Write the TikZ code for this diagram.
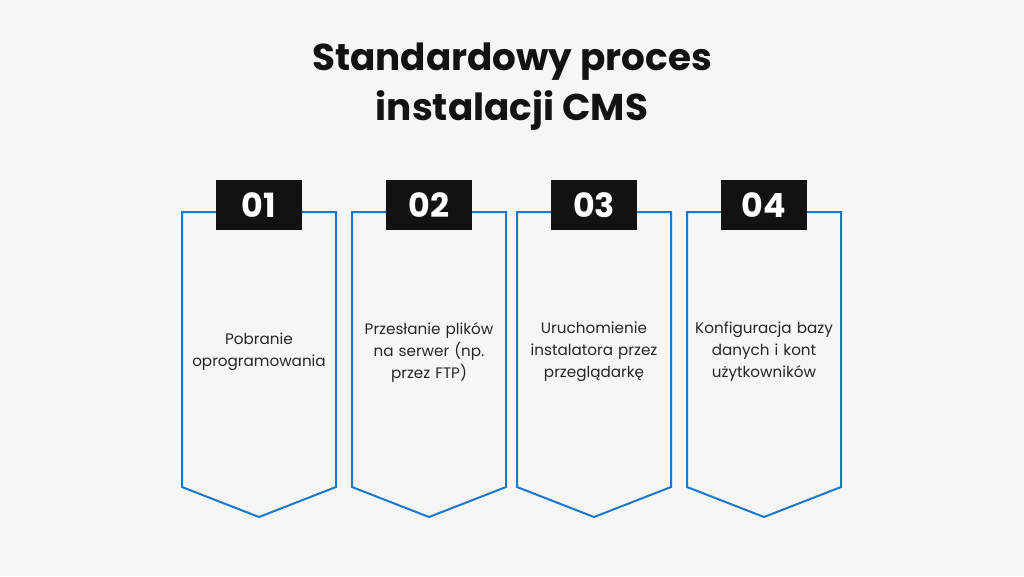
\documentclass[tikz,border=0pt]{standalone}
\usepackage{fontspec}
\setmainfont{Poppins}
\usepackage{xcolor}
\definecolor{bgcol}{HTML}{F6F6F6}
\definecolor{stepblue}{HTML}{1C77CF}
\definecolor{tabcol}{HTML}{141210}
\tikzset{every picture/.style={line width=0.75pt}}
\tikzset{
  stepframe/.style={draw=stepblue, line width=1.5pt, line join=miter},
  steptab/.style={fill=tabcol, text=white, minimum width=64.5pt, minimum height=37.5pt, inner sep=0pt, font=\bfseries\fontsize{25}{25}\selectfont},
  steptext/.style={align=center, text width=112pt, font=\fontsize{11.4}{16.5}\selectfont, text=black!85}
}
\begin{document}
\begin{tikzpicture}[x=0.75pt,y=-0.75pt]
\fill[bgcol] (0,0) rectangle (1024,576);
\useasboundingbox (0,0) rectangle (1024,576);
%
\node[font=\bfseries\fontsize{28}{37.5}\selectfont, align=center, text=tabcol] (title) at (512,87) {Standardowy proces\\instalacji CMS};
%
\foreach \Left/\Num/\Label in {%
	182/01/{Pobranie\\oprogramowania},
	352/02/{Przesłanie plików\\na serwer (np.\\przez FTP)},
	517/03/{Uruchomienie\\instalatora przez\\przeglądarkę},
	687/04/{Konfiguracja bazy\\danych i kont\\użytkowników}%
    }{
\draw[stepframe] (\Left,212) -- (\Left+154,212) -- (\Left+154,487) -- (\Left+77,517) -- (\Left,487) -- cycle;
\node[steptab] (tab\Num) at (\Left+77,205) {\Num};
\node[steptext] (text\Num) at (\Left+77,352) {\Label};
}
\end{tikzpicture}
\end{document}
